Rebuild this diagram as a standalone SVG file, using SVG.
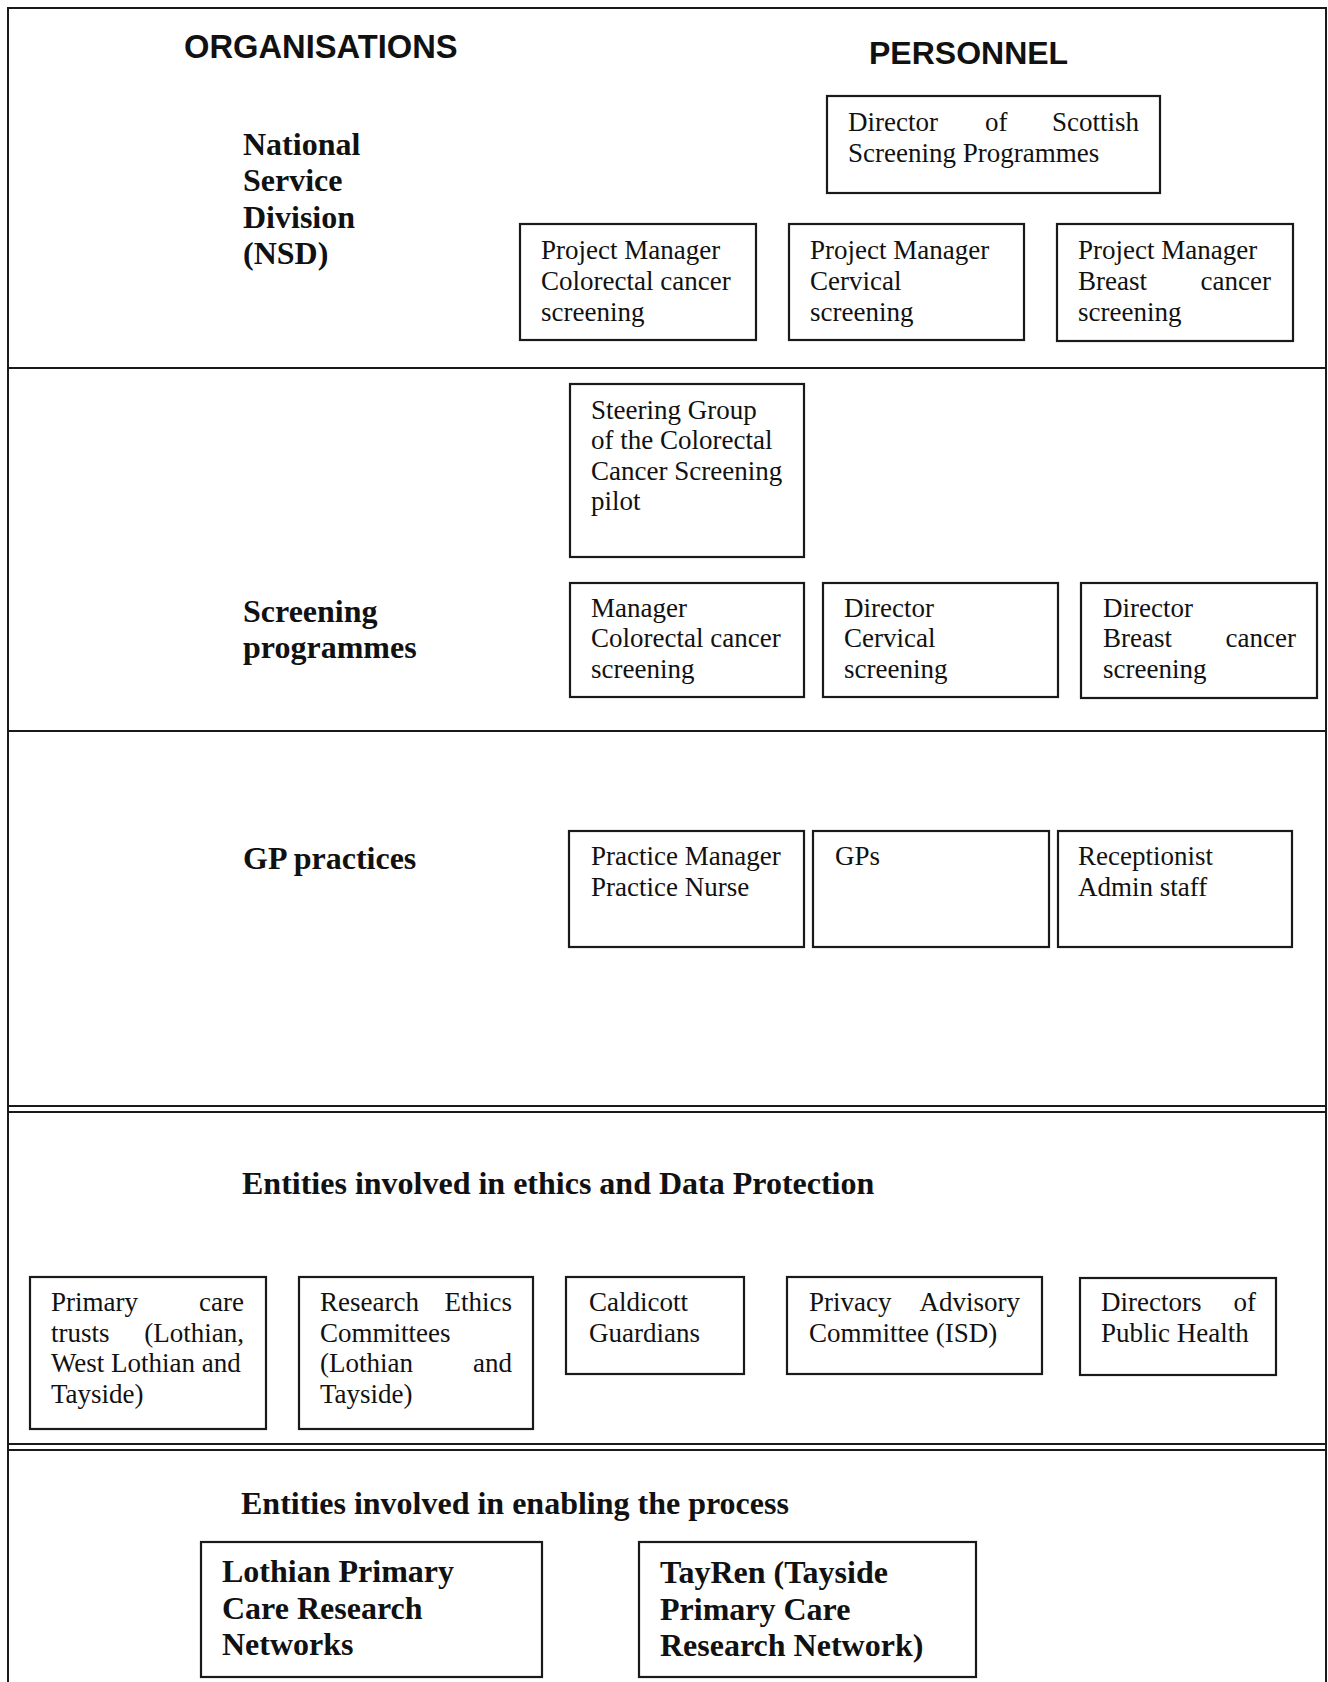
<svg xmlns="http://www.w3.org/2000/svg" width="1328" height="1682" viewBox="0 0 1328 1682">
<style>
.bg{fill:#fff}
.frame{fill:none;stroke:#1a1a1a;stroke-width:2}
.sep{stroke:#1a1a1a;stroke-width:2}
.box{fill:#fff;stroke:#1a1a1a;stroke-width:2.2}
.hd{font-family:"Liberation Sans",Arial,sans-serif;font-weight:bold;font-size:32px;fill:#111}
.org{font-family:"Liberation Serif","Times New Roman",serif;font-weight:bold;font-size:32px;fill:#111}
.t{font-family:"Liberation Serif","Times New Roman",serif;font-size:27px;fill:#111}
.tb{font-family:"Liberation Serif","Times New Roman",serif;font-weight:bold;font-size:32px;fill:#111}
.e{text-anchor:end}
</style>
<rect class="bg" x="0" y="0" width="1328" height="1682"/>

<g id="frame">
<path class="frame" d="M8,1690 V8 H1326 V1690"/>
<line class="sep" x1="8" y1="368" x2="1326" y2="368"/>
<line class="sep" x1="8" y1="731" x2="1326" y2="731"/>
<line class="sep" x1="8" y1="1106" x2="1326" y2="1106"/>
<line class="sep" x1="8" y1="1112" x2="1326" y2="1112"/>
<line class="sep" x1="8" y1="1444" x2="1326" y2="1444"/>
<line class="sep" x1="8" y1="1450" x2="1326" y2="1450"/>
</g>

<g id="headings">
<text class="hd" x="184" y="58" style="font-size:32.7px">ORGANISATIONS</text>
<text class="hd" x="869" y="64">PERSONNEL</text>
</g>

<g id="org-nsd">
<text class="org" x="243" y="155">National</text>
<text class="org" x="243" y="191">Service</text>
<text class="org" x="243" y="228">Division</text>
<text class="org" x="243" y="264">(NSD)</text>
</g>

<g id="director-scottish">
<rect class="box" x="827" y="96" width="333" height="97"/>
<text class="t" x="848" y="131">Director</text>
<text class="t" x="985" y="131">of</text>
<text class="t e" x="1139" y="131">Scottish</text>
<text class="t" x="848" y="162">Screening Programmes</text>
</g>

<g id="pm-colorectal">
<rect class="box" x="520" y="224" width="236" height="116"/>
<text class="t" x="541" y="259">Project Manager</text>
<text class="t" x="541" y="290">Colorectal cancer</text>
<text class="t" x="541" y="321">screening</text>
</g>

<g id="pm-cervical">
<rect class="box" x="789" y="224" width="235" height="116"/>
<text class="t" x="810" y="259">Project Manager</text>
<text class="t" x="810" y="290">Cervical</text>
<text class="t" x="810" y="321">screening</text>
</g>

<g id="pm-breast">
<rect class="box" x="1057" y="224" width="236" height="117"/>
<text class="t" x="1078" y="259">Project Manager</text>
<text class="t" x="1078" y="290">Breast</text>
<text class="t e" x="1271" y="290">cancer</text>
<text class="t" x="1078" y="321">screening</text>
</g>

<g id="org-screening">
<text class="org" x="243" y="622">Screening</text>
<text class="org" x="243" y="658">programmes</text>
</g>

<g id="steering-group">
<rect class="box" x="570" y="384" width="234" height="173"/>
<text class="t" x="591" y="419">Steering Group</text>
<text class="t" x="591" y="449">of the Colorectal</text>
<text class="t" x="591" y="480">Cancer Screening</text>
<text class="t" x="591" y="510">pilot</text>
</g>

<g id="manager-colorectal">
<rect class="box" x="570" y="583" width="234" height="114"/>
<text class="t" x="591" y="617">Manager</text>
<text class="t" x="591" y="647">Colorectal cancer</text>
<text class="t" x="591" y="678">screening</text>
</g>

<g id="director-cervical">
<rect class="box" x="823" y="583" width="235" height="114"/>
<text class="t" x="844" y="617">Director</text>
<text class="t" x="844" y="647">Cervical</text>
<text class="t" x="844" y="678">screening</text>
</g>

<g id="director-breast">
<rect class="box" x="1081" y="583" width="236" height="115"/>
<text class="t" x="1103" y="617">Director</text>
<text class="t" x="1103" y="647">Breast</text>
<text class="t e" x="1296" y="647">cancer</text>
<text class="t" x="1103" y="678">screening</text>
</g>

<g id="org-gp">
<text class="org" x="243" y="869">GP practices</text>
</g>

<g id="practice-manager">
<rect class="box" x="569" y="831" width="235" height="116"/>
<text class="t" x="591" y="865">Practice Manager</text>
<text class="t" x="591" y="896">Practice Nurse</text>
</g>

<g id="gps">
<rect class="box" x="813" y="831" width="236" height="116"/>
<text class="t" x="835" y="865">GPs</text>
</g>

<g id="receptionist">
<rect class="box" x="1058" y="831" width="234" height="116"/>
<text class="t" x="1078" y="865">Receptionist</text>
<text class="t" x="1078" y="896">Admin staff</text>
</g>

<g id="ethics-title">
<text class="tb" x="242" y="1194">Entities involved in ethics and Data Protection</text>
</g>

<g id="primary-care-trusts">
<rect class="box" x="30" y="1277" width="236" height="152"/>
<text class="t" x="51" y="1311">Primary</text>
<text class="t e" x="244" y="1311">care</text>
<text class="t" x="51" y="1342">trusts</text>
<text class="t e" x="244" y="1342">(Lothian,</text>
<text class="t" x="51" y="1372">West Lothian and</text>
<text class="t" x="51" y="1403">Tayside)</text>
</g>

<g id="research-ethics">
<rect class="box" x="299" y="1277" width="234" height="152"/>
<text class="t" x="320" y="1311">Research</text>
<text class="t e" x="512" y="1311">Ethics</text>
<text class="t" x="320" y="1342">Committees</text>
<text class="t" x="320" y="1372">(Lothian</text>
<text class="t e" x="512" y="1372">and</text>
<text class="t" x="320" y="1403">Tayside)</text>
</g>

<g id="caldicott">
<rect class="box" x="566" y="1277" width="178" height="97"/>
<text class="t" x="589" y="1311">Caldicott</text>
<text class="t" x="589" y="1342">Guardians</text>
</g>

<g id="privacy-advisory">
<rect class="box" x="787" y="1277" width="255" height="97"/>
<text class="t" x="809" y="1311">Privacy</text>
<text class="t e" x="1020" y="1311">Advisory</text>
<text class="t" x="809" y="1342">Committee (ISD)</text>
</g>

<g id="directors-public-health">
<rect class="box" x="1080" y="1278" width="196" height="97"/>
<text class="t" x="1101" y="1311">Directors</text>
<text class="t e" x="1256" y="1311">of</text>
<text class="t" x="1101" y="1342">Public Health</text>
</g>

<g id="enabling-title">
<text class="tb" x="241" y="1514">Entities involved in enabling the process</text>
</g>

<g id="lothian-network">
<rect class="box" x="201" y="1542" width="341" height="135"/>
<text class="tb" x="222" y="1582">Lothian Primary</text>
<text class="tb" x="222" y="1619">Care Research</text>
<text class="tb" x="222" y="1655">Networks</text>
</g>

<g id="tayren-network">
<rect class="box" x="639" y="1542" width="337" height="135"/>
<text class="tb" x="660" y="1583">TayRen (Tayside</text>
<text class="tb" x="660" y="1620">Primary Care</text>
<text class="tb" x="660" y="1656">Research Network)</text>
</g>

<g id="connectors"></g>
</svg>
